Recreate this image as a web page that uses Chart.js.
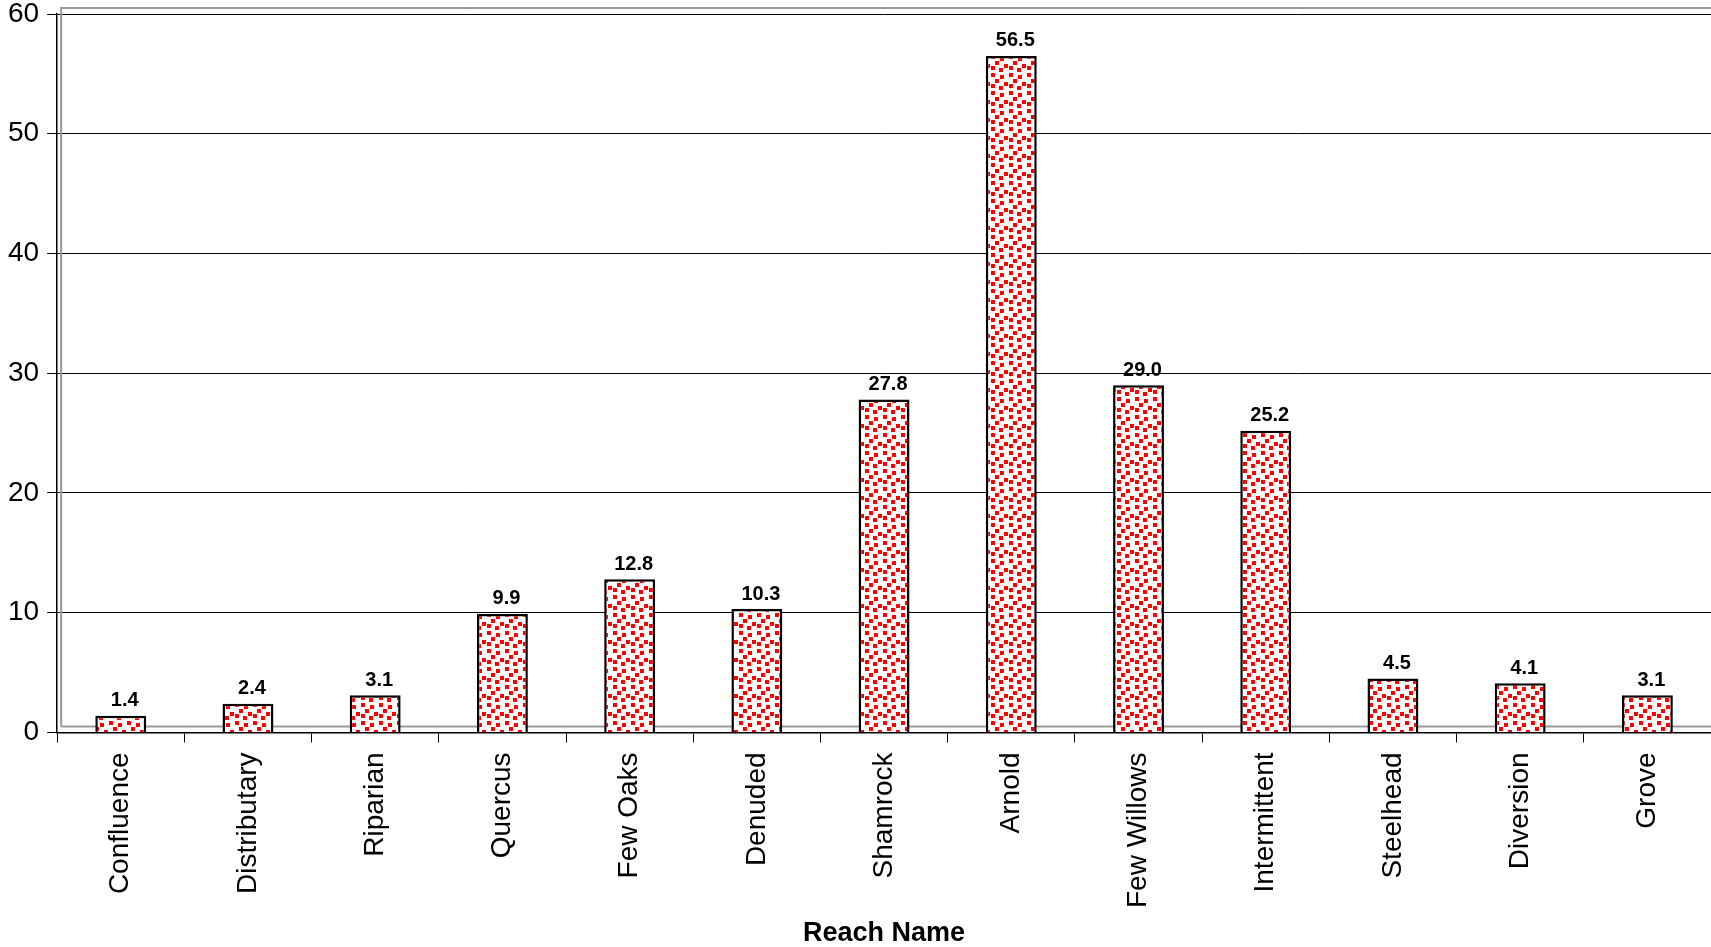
<!DOCTYPE html>
<html lang="en">
  <head>
    <meta charset="UTF-8" />
    <title>Reach Name</title>
    <script src="https://cdn.jsdelivr.net/npm/chart.js@4.4.0/dist/chart.umd.min.js"></script>
    <style>
      html, body { margin: 0; padding: 0; background: #fff; }
      #wrap { width: 1711px; height: 947px; }
    </style>
  </head>
  <body>
    <div id="wrap"><canvas id="chart"></canvas></div>
    <script>
      const reaches = ["Confluence", "Distributary", "Riparian", "Quercus", "Few Oaks", "Denuded",
        "Shamrock", "Arnold", "Few Willows", "Intermittent", "Steelhead", "Diversion", "Grove"];
      const values = [1.4, 2.4, 3.1, 9.9, 12.8, 10.3, 27.8, 56.5, 29.0, 25.2, 4.5, 4.1, 3.1];
      const yTicks = [0, 10, 20, 30, 40, 50, 60];

      // red speckle fill
      function speckle() {
        const c = document.createElement("canvas");
        c.width = 18; c.height = 18;
        const g = c.getContext("2d");
        g.fillStyle = "#fff";
        g.fillRect(0, 0, 18, 18);
        g.fillStyle = "#ff0000";
        [[1, 1], [10, 3], [5, 7], [14, 10], [1, 12], [9, 14]].forEach(p => {
          g.fillRect(p[0], p[1], 4, 4);
        });
        return g.createPattern(c, "repeat");
      }

      // grey back frame, a little up and right of the plot area
      const frame = {
        id: "frame",
        beforeDatasetsDraw(chart) {
          const a = chart.chartArea, ctx = chart.ctx;
          ctx.save();
          ctx.strokeStyle = "#999";
          ctx.lineWidth = 2;
          ctx.beginPath();
          ctx.moveTo(a.left + 4, a.bottom - 6);
          ctx.lineTo(a.left + 4, a.top - 6);
          ctx.lineTo(a.right + 4, a.top - 6);
          ctx.moveTo(a.left + 4, a.bottom - 6);
          ctx.lineTo(a.right, a.bottom - 6);
          ctx.stroke();
          ctx.restore();
        }
      };

      // value labels above bars
      const valueLabels = {
        id: "valueLabels",
        afterDatasetsDraw(chart) {
          const ctx = chart.ctx;
          const meta = chart.getDatasetMeta(0);
          ctx.save();
          ctx.font = "bold 20px 'Liberation Sans', Arial, sans-serif";
          ctx.fillStyle = "#000";
          ctx.textAlign = "center";
          ctx.textBaseline = "bottom";
          meta.data.forEach((bar, i) => {
            ctx.fillText(values[i].toFixed(1), bar.x + 4, bar.y - 5);
          });
          ctx.restore();
        }
      };

      const font = "'Liberation Sans', Arial, sans-serif";
      const ctx = document.getElementById("chart").getContext("2d");
      new Chart(ctx, {
        type: "bar",
        data: {
          labels: reaches,
          datasets: [{
            data: values,
            backgroundColor: speckle(),
            borderColor: "#000",
            borderWidth: 2.5,
            borderSkipped: "bottom",
            barPercentage: 0.4,
            categoryPercentage: 1
          }]
        },
        options: {
          responsive: true,
          maintainAspectRatio: false,
          animation: false,
          layout: { padding: { top: 0, right: 0, left: 0, bottom: 0 } },
          plugins: {
            legend: { display: false },
            tooltip: { enabled: false }
          },
          scales: {
            x: {
              grid: { offset: true, drawOnChartArea: false, color: "#000", tickLength: 10, lineWidth: 1 },
              border: { color: "#000", width: 1.5 },
              ticks: {
                color: "#000",
                maxRotation: 90,
                minRotation: 90,
                padding: 10,
                font: { family: font, size: 28 }
              },
              title: {
                display: true,
                text: "Reach Name",
                color: "#000",
                padding: { top: 2, bottom: 0 },
                font: { family: font, size: 27, weight: "bold", lineHeight: 1 }
              }
            },
            y: {
              min: 0,
              max: 60,
              afterBuildTicks(axis) { axis.ticks = yTicks.map(v => ({ value: v })); },
              afterFit(axis) { axis.paddingTop = 14; },
              grid: { color: "#000", lineWidth: 1, tickLength: 10 },
              border: { color: "#000", width: 1.5 },
              ticks: {
                color: "#000",
                padding: 8,
                font: { family: font, size: 28 }
              }
            }
          }
        },
        plugins: [frame, valueLabels]
      });
    </script>
  </body>
</html>
